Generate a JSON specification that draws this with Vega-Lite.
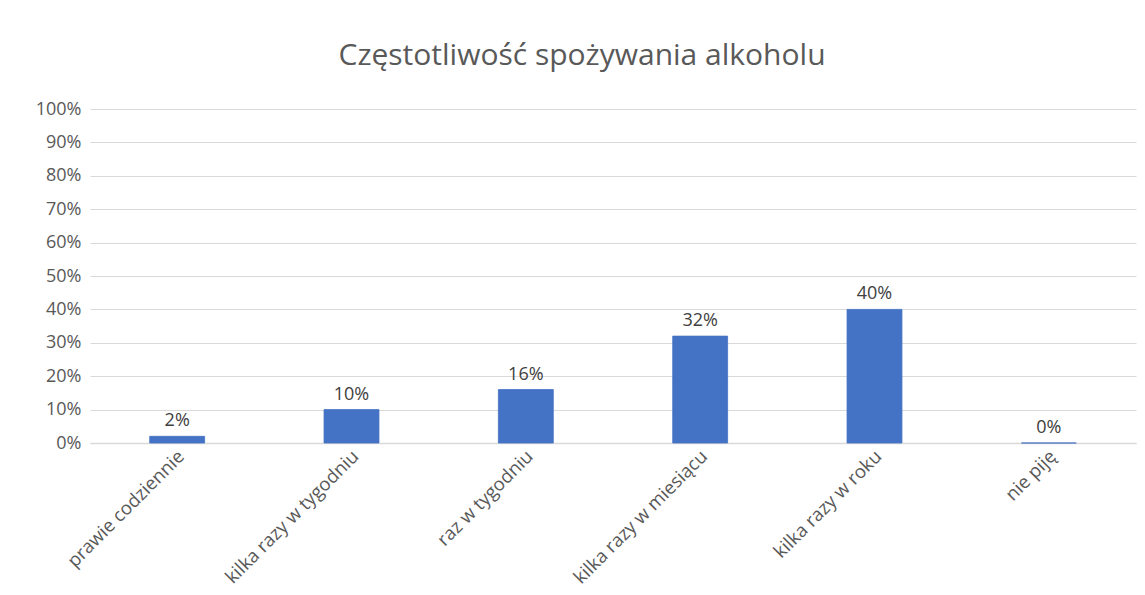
{
  "$schema": "https://vega.github.io/schema/vega-lite/v6.json",
  "autosize": "none",
  "width": 1046,
  "height": 334,
  "padding": {"left": 90, "top": 109, "right": 9, "bottom": 152},
  "background": "white",
  "title": {
    "text": "Częstotliwość spożywania alkoholu",
    "font": "Open Sans",
    "fontSize": 30,
    "fontWeight": "normal",
    "color": "#595959",
    "anchor": "middle",
    "dx": -31,
    "baseline": "alphabetic",
    "offset": 5
  },
  "data": {
    "values": [
      {"kategoria": "prawie codziennie", "udzial": 0.02},
      {"kategoria": "kilka razy w tygodniu", "udzial": 0.10},
      {"kategoria": "raz w tygodniu", "udzial": 0.16},
      {"kategoria": "kilka razy w miesiącu", "udzial": 0.32},
      {"kategoria": "kilka razy w roku", "udzial": 0.40},
      {"kategoria": "nie piję", "udzial": 0.0}
    ]
  },
  "encoding": {
    "x": {
      "field": "kategoria",
      "type": "nominal",
      "sort": null,
      "title": null,
      "scale": {"paddingInner": 0.685, "paddingOuter": 0.3425},
      "axis": {
        "labelAngle": -45,
        "labelAlign": "right",
        "labelBaseline": "middle",
        "labelFont": "Open Sans",
        "labelFontSize": 18.5,
        "labelColor": "#595959",
        "labelPadding": 10,
        "labelOffset": 4,
        "ticks": false,
        "domain": true,
        "domainColor": "#d9d9d9",
        "domainWidth": 1.5,
        "grid": false
      }
    },
    "y": {
      "field": "udzial",
      "type": "quantitative",
      "title": null,
      "scale": {"domain": [0, 1], "nice": false},
      "axis": {
        "format": ".0%",
        "values": [0, 0.1, 0.2, 0.3, 0.4, 0.5, 0.6, 0.7, 0.8, 0.9, 1],
        "labelFont": "Open Sans",
        "labelFontSize": 18,
        "labelColor": "#595959",
        "labelPadding": 9,
        "ticks": false,
        "domain": false,
        "grid": true,
        "gridColor": "#d9d9d9",
        "gridWidth": 1
      }
    }
  },
  "layer": [
    {
      "mark": {"type": "bar", "color": "#4472C4", "stroke": "#4472C4", "strokeWidth": 0.8}
    },
    {
      "mark": {"type": "text", "baseline": "bottom", "dy": -6, "font": "Open Sans", "fontSize": 18, "color": "#404040"},
      "encoding": {
        "text": {"field": "udzial", "type": "quantitative", "format": ".0%"}
      }
    }
  ],
  "config": {
    "view": {"stroke": null}
  }
}
